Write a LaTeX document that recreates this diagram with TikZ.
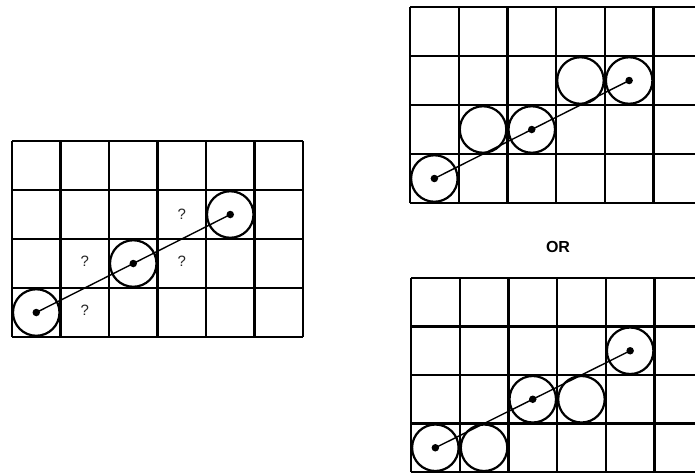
\documentclass[tikz,border=0pt]{standalone}
\usepackage{fontspec}
\setmainfont{Liberation Sans}
\begin{document}
\begin{tikzpicture}[x=1pt,y=-1pt,
  gridline/.style={line width=2.2pt, black},
  ring/.style={circle, draw=black, line width=2.2pt, fill=white, minimum size=46.5pt, inner sep=0pt},
  dot/.style={circle, fill=black, minimum size=7.5pt, inner sep=0pt},
  link/.style={line width=1.4pt, black},
  qmark/.style={font=\fontsize{15}{15}\selectfont, text=black!85},
  orlabel/.style={font=\fontsize{16}{16}\selectfont\bfseries}]
\useasboundingbox (0,0) rectangle (695,475);
\clip (0,0) rectangle (695,475);
\fill[white] (0,0) rectangle (695,475);

% left grid
\begin{scope}[shift={(12pt,-337pt)}, x=48.5pt, y=49pt]
  \foreach \i in {0,...,6} \draw[gridline] (\i,0) -- (\i,4);
  \foreach \j in {0,...,4} \draw[gridline] (0,\j) -- (6,\j);
  \node[ring] (L1) at (0.5,0.5) {};
  \node[ring] (L2) at (2.5,1.5) {};
  \node[ring] (L3) at (4.5,2.5) {};
  \node[dot] (Ld1) at (L1.center) {};
  \node[dot] (Ld2) at (L2.center) {};
  \node[dot] (Ld3) at (L3.center) {};
  \draw[link] (Ld1.center) -- (Ld2.center) -- (Ld3.center);
  \node[qmark] (q1) at (1.5,0.55) {?};
  \node[qmark] (q2) at (1.5,1.55) {?};
  \node[qmark] (q3) at (3.5,1.55) {?};
  \node[qmark] (q4) at (3.5,2.5) {?};
\end{scope}

% top right grid
\begin{scope}[shift={(410pt,-203pt)}, x=48.7pt, y=49pt]
  \foreach \i in {0,...,6} \draw[gridline] (\i,0) -- (\i,4);
  \foreach \j in {0,...,4} \draw[gridline] (0,\j) -- (6,\j);
  \node[ring] (T1) at (0.5,0.5) {};
  \node[ring] (T2) at (1.5,1.5) {};
  \node[ring] (T3) at (2.5,1.5) {};
  \node[ring] (T4) at (3.5,2.5) {};
  \node[ring] (T5) at (4.5,2.5) {};
  \node[dot] (Td1) at (T1.center) {};
  \node[dot] (Td3) at (T3.center) {};
  \node[dot] (Td5) at (T5.center) {};
  \draw[link] (Td1.center) -- (Td3.center) -- (Td5.center);
\end{scope}

\node[orlabel] (or) at (558,247) {OR};

% bottom right grid
\begin{scope}[shift={(411pt,-472pt)}, x=48.7pt, y=48.5pt]
  \foreach \i in {0,...,6} \draw[gridline] (\i,0) -- (\i,4);
  \foreach \j in {0,...,4} \draw[gridline] (0,\j) -- (6,\j);
  \node[ring] (B1) at (0.5,0.5) {};
  \node[ring] (B2) at (1.5,0.5) {};
  \node[ring] (B3) at (2.5,1.5) {};
  \node[ring] (B4) at (3.5,1.5) {};
  \node[ring] (B5) at (4.5,2.5) {};
  \node[dot] (Bd1) at (B1.center) {};
  \node[dot] (Bd3) at (B3.center) {};
  \node[dot] (Bd5) at (B5.center) {};
  \draw[link] (Bd1.center) -- (Bd3.center) -- (Bd5.center);
\end{scope}
\end{tikzpicture}
\end{document}
